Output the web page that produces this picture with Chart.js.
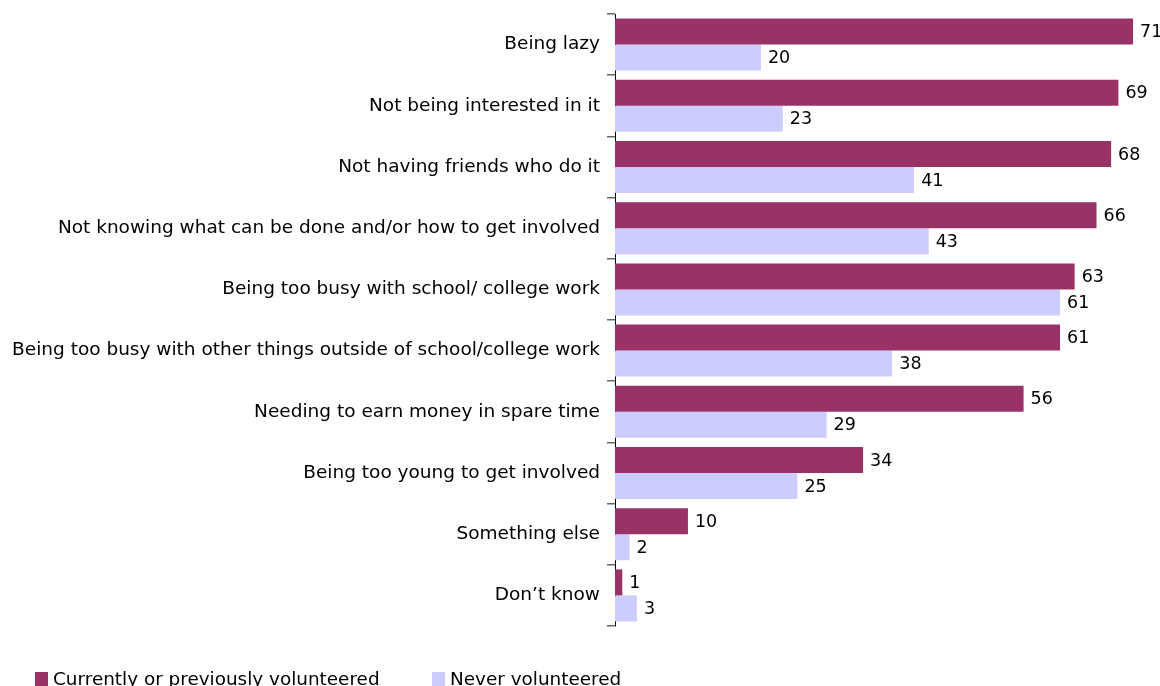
<!DOCTYPE html>
<html>
<head>
<meta charset="utf-8">
<script src="https://cdn.jsdelivr.net/npm/chart.js@4.4.1/dist/chart.umd.min.js"></script>
<style>
  html, body { margin: 0; padding: 0; background: #fff; }
  #wrap { width: 1160px; height: 686px; position: relative; }
</style>
</head>
<body>
<div id="wrap"><canvas id="chart"></canvas></div>
<script>
const categories = [
  'Being lazy',
  'Not being interested in it',
  'Not having friends who do it',
  'Not knowing what can be done and/or how to get involved',
  'Being too busy with school/ college work',
  'Being too busy with other things outside of school/college work',
  'Needing to earn money in spare time',
  'Being too young to get involved',
  'Something else',
  'Don\u2019t know'
]
const volunteered = [71, 69, 68, 66, 63, 61, 56, 34, 10, 1]
const neverVolunteered = [20, 23, 41, 43, 61, 38, 29, 25, 2, 3]

const colors = {
  volunteered: '#993366',
  never: '#ccccff',
  text: '#000000'
}
const font = 'DejaVu Sans'

// numbers at the end of every bar
const valueLabels = {
  id: 'valueLabels',
  afterDatasetsDraw(chart) {
    const ctx = chart.ctx
    ctx.save()
    ctx.font = '17.5px "' + font + '"'
    ctx.fillStyle = colors.text
    ctx.textAlign = 'left'
    ctx.textBaseline = 'middle'
    chart.data.datasets.forEach((ds, i) => {
      chart.getDatasetMeta(i).data.forEach((bar, j) => {
        ctx.fillText(String(ds.data[j]), bar.x + 7, bar.y + 1)
      })
    })
    ctx.restore()
  }
}

// legend along the bottom edge
const bottomLegend = {
  id: 'bottomLegend',
  afterDraw(chart) {
    const ctx = chart.ctx
    const starts = [35, 432]
    ctx.save()
    ctx.font = '18.4px "' + font + '"'
    ctx.textBaseline = 'middle'
    ctx.textAlign = 'left'
    chart.data.datasets.forEach((ds, i) => {
      const x = starts[i]
      ctx.fillStyle = ds.backgroundColor
      ctx.fillRect(x, 672, 13, 14)
      ctx.fillStyle = colors.text
      ctx.fillText(ds.label, x + 18, 680)
    })
    ctx.restore()
  }
}

new Chart(document.getElementById('chart'), {
  type: 'bar',
  data: {
    labels: categories,
    datasets: [
      { label: 'Currently or previously volunteered', data: volunteered, backgroundColor: colors.volunteered },
      { label: 'Never volunteered', data: neverVolunteered, backgroundColor: colors.never }
    ]
  },
  options: {
    indexAxis: 'y',
    responsive: true,
    maintainAspectRatio: false,
    animation: false,
    layout: { padding: { top: 14, bottom: 60, left: 0, right: 0 } },
    datasets: { bar: { categoryPercentage: 0.85, barPercentage: 1 } },
    plugins: { legend: { display: false }, tooltip: { enabled: false } },
    scales: {
      x: { display: false, min: 0, max: 74.7 },
      y: {
        afterFit(scale) {
          scale.width = 615
          scale.paddingTop = 0
          scale.paddingBottom = 0
        },
        border: { display: true, color: '#000', width: 1 },
        grid: { offset: true, drawOnChartArea: false, drawTicks: true, tickLength: 8, color: '#666', lineWidth: 1.5 },
        ticks: { color: colors.text, padding: 7, font: { family: font, size: 18.5 } }
      }
    }
  },
  plugins: [valueLabels, bottomLegend]
})
</script>
</body>
</html>
